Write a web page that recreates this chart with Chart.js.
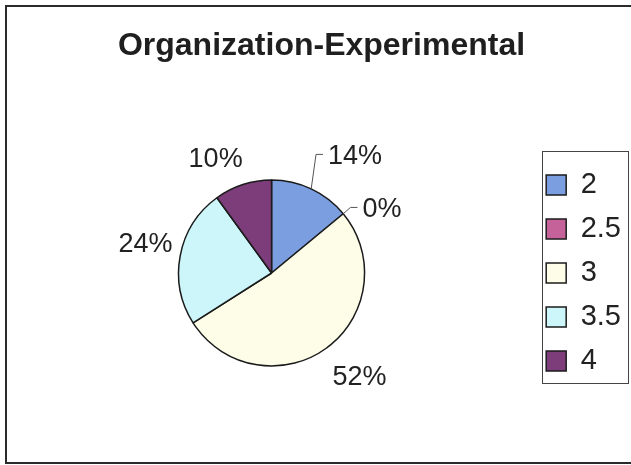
<!DOCTYPE html>
<html>
<head>
<meta charset="utf-8">
<script src="https://cdn.jsdelivr.net/npm/chart.js@4.4.1/dist/chart.umd.min.js"></script>
<style>
  html, body { margin: 0; padding: 0; background: #fff; }
</style>
</head>
<body>
<canvas id="chart" width="631" height="465"></canvas>
<script>
const chartTitle = 'Organization-Experimental';
const grades = ['2', '2.5', '3', '3.5', '4'];
const shares = [14, 0, 52, 24, 10];
const sliceColors = ['#7b9ee0', '#c6629a', '#fdfde8', '#ccf6fa', '#7d3c7a'];

// hand placed labels: shift from the default spot just outside each slice
const labelShift = [[30, -3], [13, 17], [12, 0], [5, -3], [-18, 3]];
const hasLeader = [true, true, false, false, false];

Chart.defaults.font.family = "'Liberation Sans', Arial, sans-serif";
Chart.defaults.color = '#222';

const frame = {
    id: 'frame',
    beforeDraw(chart) {
        const ctx = chart.ctx;
        ctx.save();
        ctx.fillStyle = '#fff';
        ctx.fillRect(0, 0, chart.width, chart.height);
        ctx.strokeStyle = '#2b2b2b';
        ctx.lineWidth = 2;
        // right edge runs off the canvas
        ctx.strokeRect(6, 6, chart.width + 10, 457);
        ctx.restore();
    }
};

const legendFrame = {
    id: 'legendFrame',
    afterDraw(chart) {
        const boxes = chart.legend.legendHitBoxes;
        if (!boxes.length) return;
        const first = boxes[0];
        const last = boxes[boxes.length - 1];
        const widest = Math.max(...boxes.map(b => b.width));
        const ctx = chart.ctx;
        const left = first.left - 4;
        const top = first.top - 20;
        const right = first.left + widest + 7;
        const bottom = last.top + last.height + 7;
        ctx.save();
        ctx.strokeStyle = '#444';
        ctx.lineWidth = 1;
        ctx.strokeRect(Math.round(left) + 0.5, Math.round(top) + 0.5, Math.round(right - left), Math.round(bottom - top));
        ctx.restore();
    }
};

const sliceLabels = {
    id: 'sliceLabels',
    afterDatasetsDraw(chart) {
        const ctx = chart.ctx;
        const arcs = chart.getDatasetMeta(0).data;
        const total = shares.reduce((a, b) => a + b, 0);
        ctx.save();
        ctx.font = "27px 'Liberation Sans', Arial, sans-serif";
        ctx.fillStyle = '#222';
        ctx.textAlign = 'center';
        ctx.textBaseline = 'middle';
        arcs.forEach((arc, i) => {
            const {x, y, startAngle, endAngle, outerRadius} =
                arc.getProps(['x', 'y', 'startAngle', 'endAngle', 'outerRadius'], true);
            const mid = (startAngle + endAngle) / 2;
            const ux = Math.cos(mid);
            const uy = Math.sin(mid);
            const text = Math.round(shares[i] / total * 100) + '%';
            const tw = ctx.measureText(text).width;
            const dist = outerRadius + 12 + Math.abs(ux) * tw / 2 + Math.abs(uy) * 10;
            const lx = x + ux * dist + labelShift[i][0];
            const ly = y + uy * dist + labelShift[i][1];
            if (hasLeader[i]) {
                const textLeft = lx - tw / 2;
                ctx.beginPath();
                ctx.moveTo(x + ux * outerRadius, y + uy * outerRadius);
                ctx.lineTo(textLeft - 12, ly - 2);
                ctx.lineTo(textLeft - 5, ly - 2);
                ctx.strokeStyle = '#555';
                ctx.lineWidth = 1;
                ctx.stroke();
            }
            ctx.fillText(text, lx, ly);
        });
        ctx.restore();
    }
};

new Chart(document.getElementById('chart'), {
    type: 'pie',
    data: {
        labels: grades,
        datasets: [{
            data: shares,
            backgroundColor: sliceColors,
            borderColor: '#1b1b1b',
            borderWidth: 1.5,
            radius: 93
        }]
    },
    options: {
        responsive: false,
        animation: false,
        layout: {
            padding: { left: 12, right: 0, top: 0, bottom: 0 }
        },
        plugins: {
            title: {
                display: true,
                text: chartTitle,
                color: '#1f1f1f',
                font: { size: 32, weight: 'bold' },
                padding: { top: 27, bottom: 15.6 }
            },
            legend: {
                position: 'right',
                fullSize: false,
                align: 'center',
                labels: {
                    boxWidth: 20,
                    boxHeight: 20,
                    padding: 15,
                    color: '#222',
                    font: { size: 29 }
                }
            },
            tooltip: { enabled: false }
        }
    },
    plugins: [frame, legendFrame, sliceLabels]
});
</script>
</body>
</html>
